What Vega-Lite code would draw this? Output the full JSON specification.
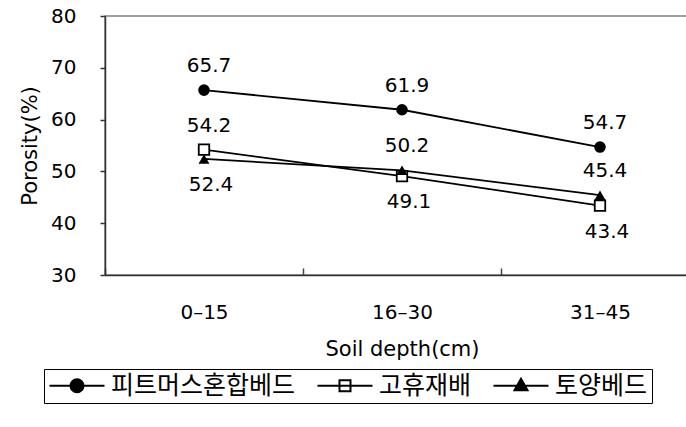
{
  "$schema": "https://vega.github.io/schema/vega-lite/v6.json",
  "width": 594,
  "height": 259,
  "autosize": {"type": "none"},
  "padding": {"left": 105, "top": 16, "right": 0, "bottom": 152},
  "background": "white",
  "config": {
    "font": "DejaVu Sans",
    "view": {"stroke": "#808080", "strokeWidth": 1.5}
  },
  "data": {
    "values": [
      {"depth": "0–15", "series": "피트머스혼합베드", "porosity": 65.7},
      {"depth": "16–30", "series": "피트머스혼합베드", "porosity": 61.9},
      {"depth": "31–45", "series": "피트머스혼합베드", "porosity": 54.7},
      {"depth": "0–15", "series": "고휴재배", "porosity": 54.2},
      {"depth": "16–30", "series": "고휴재배", "porosity": 49.1},
      {"depth": "31–45", "series": "고휴재배", "porosity": 43.4},
      {"depth": "0–15", "series": "토양베드", "porosity": 52.4},
      {"depth": "16–30", "series": "토양베드", "porosity": 50.2},
      {"depth": "31–45", "series": "토양베드", "porosity": 45.4}
    ]
  },
  "encoding": {
    "x": {
      "field": "depth",
      "type": "nominal",
      "sort": ["0–15", "16–30", "31–45"],
      "scale": {"type": "band", "paddingInner": 0, "paddingOuter": 0},
      "axis": {
        "title": "Soil depth(cm)",
        "labelAngle": 0,
        "zindex": 1,
        "ticks": true,
        "tickBand": "extent",
        "tickSize": -7,
        "tickColor": "#444444",
        "tickWidth": 1.5,
        "domainColor": "#333333",
        "domainWidth": 1.5,
        "labelFont": "DejaVu Sans",
        "labelFontSize": 20,
        "labelColor": "black",
        "labelPadding": 34,
        "titleFont": "DejaVu Sans",
        "titleFontSize": 21,
        "titleFontWeight": "normal",
        "titleColor": "black",
        "titlePadding": 16
      }
    },
    "y": {
      "field": "porosity",
      "type": "quantitative",
      "scale": {"domain": [30, 80], "nice": false, "zero": false},
      "axis": {
        "title": "Porosity(%)",
        "values": [30, 40, 50, 60, 70, 80],
        "grid": false,
        "zindex": 1,
        "tickSize": 5,
        "tickColor": "#333333",
        "tickWidth": 1.5,
        "domainColor": "#333333",
        "domainWidth": 1.5,
        "labelFont": "DejaVu Sans",
        "labelFontSize": 20,
        "labelColor": "black",
        "labelPadding": 24,
        "titleFont": "DejaVu Sans",
        "titleFontSize": 21,
        "titleFontWeight": "normal",
        "titleColor": "black",
        "titlePadding": 10
      }
    }
  },
  "layer": [
    {
      "mark": {"type": "line", "color": "black", "strokeWidth": 1.8},
      "encoding": {"detail": {"field": "series"}}
    },
    {
      "transform": [{"filter": "datum.series === '피트머스혼합베드'"}],
      "mark": {"type": "point", "shape": "circle", "filled": true, "color": "black", "size": 135, "opacity": 1}
    },
    {
      "transform": [{"filter": "datum.series === '고휴재배'"}],
      "mark": {"type": "point", "shape": "square", "filled": true, "fill": "white", "stroke": "black", "strokeWidth": 1.8, "size": 110, "opacity": 1}
    },
    {
      "transform": [{"filter": "datum.series === '토양베드'"}],
      "mark": {"type": "point", "shape": "triangle-up", "filled": true, "color": "black", "size": 120, "opacity": 1}
    },
    {
      "transform": [{"filter": "!((datum.series === '토양베드' && datum.depth === '0–15') || (datum.series === '고휴재배' && datum.depth !== '0–15'))"}],
      "mark": {"type": "text", "dy": -24, "dx": 5, "fontSize": 20, "font": "DejaVu Sans", "color": "black"},
      "encoding": {"text": {"field": "porosity", "type": "quantitative", "format": ".1f"}}
    },
    {
      "transform": [{"filter": "(datum.series === '토양베드' && datum.depth === '0–15') || (datum.series === '고휴재배' && datum.depth !== '0–15')"}],
      "mark": {"type": "text", "dy": 26, "dx": 7, "fontSize": 20, "font": "DejaVu Sans", "color": "black"},
      "encoding": {"text": {"field": "porosity", "type": "quantitative", "format": ".1f"}}
    },
    {
      "mark": {"type": "point", "filled": true, "strokeWidth": 2, "clip": true, "size": 400, "opacity": 1},
      "encoding": {
        "y": {"datum": 0},
        "shape": {
          "field": "series",
          "type": "nominal",
          "scale": {
            "domain": ["피트머스혼합베드", "고휴재배", "토양베드"],
            "range": [
              "M-1.1,0H4.4M1,0A0.65,0.65,0,1,1,2.3,0A0.65,0.65,0,1,1,1,0Z",
              "M-1.1,0H4.4M1.1,-0.55H2.2V0.55H1.1Z",
              "M-1.1,0H4.4M1.65,-0.7L2.3,0.45H1Z"
            ]
          },
          "legend": {
            "orient": "none",
            "legendX": -61,
            "legendY": 353,
            "direction": "horizontal",
            "title": null,
            "strokeColor": "black",
            "padding": 4,
            "symbolSize": 400,
            "symbolStrokeWidth": 2,
            "labelFont": "Noto Sans CJK KR",
            "labelFontSize": 25,
            "labelColor": "black",
            "labelOffset": 38,
            "labelLimit": 400,
            "columnPadding": 17
          }
        },
        "fill": {
          "field": "series",
          "type": "nominal",
          "scale": {
            "domain": ["피트머스혼합베드", "고휴재배", "토양베드"],
            "range": ["black", "white", "black"]
          },
          "legend": {
            "orient": "none",
            "legendX": -61,
            "legendY": 353,
            "direction": "horizontal",
            "title": null,
            "strokeColor": "black",
            "padding": 4,
            "symbolSize": 400,
            "symbolStrokeWidth": 2,
            "labelFont": "Noto Sans CJK KR",
            "labelFontSize": 25,
            "labelColor": "black",
            "labelOffset": 38,
            "labelLimit": 400,
            "columnPadding": 17
          }
        },
        "stroke": {
          "field": "series",
          "type": "nominal",
          "scale": {
            "domain": ["피트머스혼합베드", "고휴재배", "토양베드"],
            "range": ["black", "black", "black"]
          },
          "legend": {
            "orient": "none",
            "legendX": -61,
            "legendY": 353,
            "direction": "horizontal",
            "title": null,
            "strokeColor": "black",
            "padding": 4,
            "symbolSize": 400,
            "symbolStrokeWidth": 2,
            "labelFont": "Noto Sans CJK KR",
            "labelFontSize": 25,
            "labelColor": "black",
            "labelOffset": 38,
            "labelLimit": 400,
            "columnPadding": 17
          }
        }
      }
    }
  ]
}
